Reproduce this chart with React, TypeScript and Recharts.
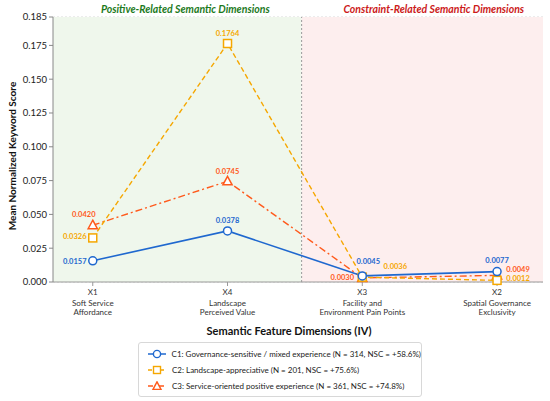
import React from "react";
import {
  LineChart,
  Line,
  XAxis,
  YAxis,
  CartesianGrid,
  ReferenceArea,
  ReferenceLine,
  LabelList,
  Legend,
} from "recharts";

// dimension codes in the order they are plotted
const DIMENSIONS = ["X1", "X4", "X3", "X2"];
const DIMENSION_NAMES = [
  ["Soft Service", "Affordance"],
  ["Landscape", "Perceived Value"],
  ["Facility and", "Environment Pain Points"],
  ["Spatial Governance", "Exclusivity"],
];

const C1_VALUES = [0.0157, 0.0378, 0.0045, 0.0077];
const C2_VALUES = [0.0326, 0.1764, 0.0036, 0.0012];
const C3_VALUES = [0.042, 0.0745, 0.003, 0.0049];

const SERIES_NAMES = [
  "C1: Governance-sensitive / mixed experience (N = 314, NSC = +58.6%)",
  "C2: Landscape-appreciative (N = 201, NSC = +75.6%)",
  "C3: Service-oriented positive experience (N = 361, NSC = +74.8%)",
];

const Y_TICKS = [0, 0.025, 0.05, 0.075, 0.1, 0.125, 0.15, 0.175, 0.196];
const Y_TICK_LABELS = ["0.000", "0.025", "0.050", "0.075", "0.100", "0.125", "0.150", "0.175", "0.185"];

const BLUE = "#1f68cf";
const AMBER = "#f5a700";
const ORANGE = "#ff5a1c";
const FONT = "Lato";

// where each value label sits relative to its marker
const C1_LABEL_OFFSETS = [[-18, 1], [0, -10], [6, -14], [0, -11]];
const C2_LABEL_OFFSETS = [[-18, -1], [0, -10], [33, -11], [21, -2]];
const C3_LABEL_OFFSETS = [[-9, -11], [0, -10], [-20, 0], [21, -6]];

const data = DIMENSIONS.map((d, i) => ({
  pos: i,
  dim: d,
  c1: C1_VALUES[i],
  c2: C2_VALUES[i],
  c3: C3_VALUES[i],
}));

const DimensionTick = ({ x, y, payload }: any) => {
  const i = payload.value;
  return (
    <g transform={`translate(${x},${y})`}>
      <text textAnchor="middle" fontFamily={FONT} fontSize={8} fill="#333">
        <tspan x={0} dy={7}>{DIMENSIONS[i]}</tspan>
        <tspan x={0} dy={10.5}>{DIMENSION_NAMES[i][0]}</tspan>
        <tspan x={0} dy={9.5}>{DIMENSION_NAMES[i][1]}</tspan>
      </text>
    </g>
  );
};

const circleDot = (color: string) => (p: any) => (
  <circle key={`c-${p.index}`} cx={p.cx} cy={p.cy} r={4} fill="#fff" stroke={color} strokeWidth={1.5} />
);

const squareDot = (color: string) => (p: any) => (
  <rect key={`s-${p.index}`} x={p.cx - 4} y={p.cy - 4} width={8} height={8} fill="#fff" stroke={color} strokeWidth={1.5} />
);

const triangleDot = (color: string) => (p: any) => (
  <polygon
    key={`t-${p.index}`}
    points={`${p.cx},${p.cy - 5} ${p.cx + 4.6},${p.cy + 3.5} ${p.cx - 4.6},${p.cy + 3.5}`}
    fill="#fff"
    stroke={color}
    strokeWidth={1.5}
  />
);

const valueLabel = (offsets: number[][], color: string) => (p: any) => {
  const [dx, dy] = offsets[p.index] || [0, -10];
  return (
    <text
      x={p.x + dx}
      y={p.y + dy}
      textAnchor="middle"
      dominantBaseline="central"
      fontFamily={FONT}
      fontWeight="bold"
      fontSize={7.5}
      fill={color}
    >
      {Number(p.value).toFixed(4)}
    </text>
  );
};

const regionTitle = (text: string, color: string, dx: number) => (p: any) => {
  const vb = p.viewBox;
  return (
    <text
      x={vb.x + vb.width / 2 + dx}
      y={13}
      textAnchor="middle"
      fontFamily={FONT}
      fontWeight="bold"
      fontStyle="italic"
      fontSize={10.5}
      fill={color}
    >
      {text}
    </text>
  );
};

const LegendMarker = ({ kind, color }: { kind: string; color: string }) => (
  <svg width={20} height={10} style={{ display: "block" }}>
    <line x1={1} y1={5} x2={19} y2={5} stroke={color} strokeWidth={1.5}
      strokeDasharray={kind === "square" ? "4 2" : kind === "triangle" ? "5 2 2 2" : undefined} />
    {kind === "circle" && <circle cx={10} cy={5} r={3.6} fill="#fff" stroke={color} strokeWidth={1.4} />}
    {kind === "square" && <rect x={6.5} y={1.5} width={7} height={7} fill="#fff" stroke={color} strokeWidth={1.4} />}
    {kind === "triangle" && <polygon points="10,0.8 14,8.4 6,8.4" fill="#fff" stroke={color} strokeWidth={1.4} />}
  </svg>
);

const LEGEND_STYLE = [
  { kind: "circle", color: BLUE },
  { kind: "square", color: AMBER },
  { kind: "triangle", color: ORANGE },
];

const LegendBox = () => (
  <div
    style={{
      width: 284,
      height: 55,
      boxSizing: "border-box",
      border: "1px solid #d8d8d8",
      borderRadius: 3,
      background: "#fff",
      padding: "3px 0 0 8px",
      fontFamily: FONT,
      fontSize: 8,
      color: "#222",
    }}
  >
    {SERIES_NAMES.map((name, i) => (
      <div key={name} style={{ display: "flex", alignItems: "center", height: 16 }}>
        <LegendMarker kind={LEGEND_STYLE[i].kind} color={LEGEND_STYLE[i].color} />
        <span style={{ marginLeft: 5, whiteSpace: "nowrap" }}>{name}</span>
      </div>
    ))}
  </div>
);

export default function App() {
  return (
    <div style={{ position: "absolute", left: 0, top: 0, width: 550, height: 401, background: "#fff" }}>
      <LineChart
        width={550}
        height={401}
        data={data}
        margin={{ top: 17, right: 7, left: 13, bottom: 79 }}
      >
        <ReferenceArea
          x1={-0.295}
          x2={1.55}
          fill="#eff7ec"
          fillOpacity={1}
          stroke="none"
          label={{ content: regionTitle("Positive-Related Semantic Dimensions", "#1d7a1d", 8) }}
        />
        <ReferenceArea
          x1={1.55}
          x2={3.341}
          fill="#fdeeee"
          fillOpacity={1}
          stroke="none"
          label={{ content: regionTitle("Constraint-Related Semantic Dimensions", "#cc1a1a", 11.5) }}
        />
        <CartesianGrid vertical={false} stroke="#d9d9d9" strokeDasharray="2 2" />
        <ReferenceLine x={1.55} stroke="#9a9a9a" strokeDasharray="2 2" />
        <XAxis
          type="number"
          dataKey="pos"
          domain={[-0.295, 3.341]}
          ticks={[0, 1, 2, 3]}
          interval={0}
          height={40}
          tick={<DimensionTick />}
          tickSize={4}
          axisLine={{ stroke: "#999" }}
          tickLine={{ stroke: "#999" }}
          label={{
            content: (p: any) => (
              <text
                x={p.viewBox.x + p.viewBox.width / 2 - 9}
                y={335}
                textAnchor="middle"
                fontFamily={FONT}
                fontWeight="bold"
                fontSize={11}
                fill="#111"
              >
                Semantic Feature Dimensions (IV)
              </text>
            ),
          }}
        />
        <YAxis
          type="number"
          domain={[0, 0.196]}
          ticks={Y_TICKS}
          interval={0}
          width={40}
          tickSize={4}
          tickFormatter={(v: number, i: number) => Y_TICK_LABELS[i]}
          tick={{ fontFamily: FONT, fontSize: 9.5, fill: "#222" }}
          axisLine={{ stroke: "#888" }}
          tickLine={{ stroke: "#888" }}
          label={{
            content: () => (
              <text
                x={12}
                y={156}
                transform="rotate(-90 12 156)"
                textAnchor="middle"
                dominantBaseline="central"
                fontFamily={FONT}
                fontWeight="bold"
                fontSize={10}
                fill="#111"
              >
                Mean Normalized Keyword Score
              </text>
            ),
          }}
        />
        <Line
          dataKey="c3"
          name={SERIES_NAMES[2]}
          stroke={ORANGE}
          strokeWidth={1.4}
          strokeDasharray="7 3 2 3"
          dot={triangleDot(ORANGE)}
          isAnimationActive={false}
        >
          <LabelList dataKey="c3" content={valueLabel(C3_LABEL_OFFSETS, ORANGE)} />
        </Line>
        <Line
          dataKey="c2"
          name={SERIES_NAMES[1]}
          stroke={AMBER}
          strokeWidth={1.4}
          strokeDasharray="5 3"
          dot={squareDot(AMBER)}
          isAnimationActive={false}
        >
          <LabelList dataKey="c2" content={valueLabel(C2_LABEL_OFFSETS, AMBER)} />
        </Line>
        <Line
          dataKey="c1"
          name={SERIES_NAMES[0]}
          stroke={BLUE}
          strokeWidth={1.6}
          dot={circleDot(BLUE)}
          isAnimationActive={false}
        >
          <LabelList dataKey="c1" content={valueLabel(C1_LABEL_OFFSETS, BLUE)} />
        </Line>
        <Legend
          layout="horizontal"
          verticalAlign="middle"
          align="center"
          content={() => <LegendBox />}
          wrapperStyle={{ position: "absolute", left: 138, top: 342, width: 284, height: 55 }}
        />
      </LineChart>
    </div>
  );
}
